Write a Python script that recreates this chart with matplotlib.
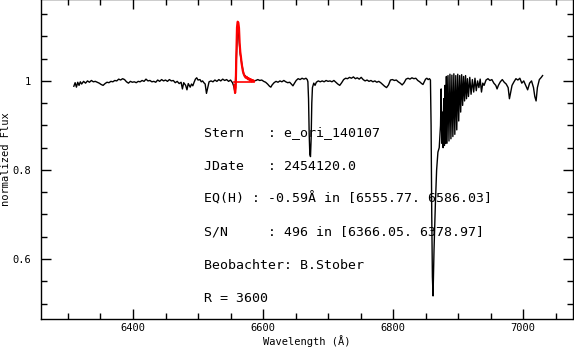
import matplotlib
matplotlib.use("Agg")
import matplotlib.pyplot as plt
from matplotlib.ticker import MultipleLocator

plt.rcParams['font.family'] = ['DejaVu Sans Mono']

# spectrum (wavelength in Angstrom, normalized flux)
wave = [6309, 6311, 6313, 6315, 6317, 6319, 6321, 6324, 6327, 6330, 6333, 6336, 6339, 6342,
        6345, 6348, 6351, 6354, 6357, 6360, 6363, 6366, 6369, 6372, 6375, 6378, 6381, 6384,
        6387, 6390, 6393, 6396, 6399, 6402, 6405, 6408, 6411, 6414, 6417, 6420, 6423, 6426,
        6429, 6432, 6435, 6438, 6441, 6444, 6447, 6450, 6453, 6456, 6459, 6462, 6465, 6468,
        6471, 6474, 6476, 6478, 6481, 6483, 6485, 6488, 6490, 6492, 6494, 6496, 6498, 6500,
        6503, 6505, 6507, 6509, 6511, 6513, 6515, 6517, 6520, 6523, 6526, 6529, 6532, 6535,
        6538, 6541, 6544, 6547, 6550, 6553, 6555, 6557, 6561, 6565, 6570, 6575, 6580, 6586,
        6589, 6592, 6595, 6598, 6601, 6604, 6607, 6610, 6612, 6614, 6617, 6620, 6623, 6626,
        6629, 6632, 6635, 6638, 6641, 6644, 6646, 6648, 6651, 6654, 6657, 6660, 6663, 6666,
        6668, 6669, 6670, 6671, 6672, 6673, 6674, 6675, 6676, 6678, 6680, 6682, 6685, 6688,
        6691, 6694, 6697, 6700, 6703, 6706, 6709, 6712, 6715, 6718, 6721, 6724, 6727, 6730,
        6733, 6736, 6739, 6742, 6745, 6748, 6751, 6754, 6757, 6760, 6763, 6766, 6769, 6772,
        6775, 6778, 6781, 6784, 6787, 6790, 6793, 6796, 6799, 6802, 6805, 6808, 6811, 6814,
        6817, 6820, 6823, 6826, 6829, 6832, 6835, 6838, 6841, 6844, 6846, 6848, 6850, 6852,
        6854, 6856, 6857.5, 6858.5, 6859.5, 6860.5, 6861.5, 6863, 6865, 6867, 6869, 6871,
        6873, 6874, 6875, 6876, 6877, 6878, 6879, 6880, 6881, 6882, 6883, 6884.5, 6886,
        6887.5, 6889, 6890.5, 6892, 6893.5, 6895, 6896.5, 6898, 6899.5, 6901, 6902.5, 6904,
        6905.5, 6907, 6908.5, 6910, 6911.5, 6913, 6914.5, 6916, 6918, 6920, 6922, 6924, 6926,
        6928, 6930, 6932, 6934, 6936, 6938, 6940, 6943, 6946, 6949, 6952, 6955, 6958, 6960,
        6962, 6965, 6968, 6971, 6974, 6977, 6979, 6981, 6983, 6986, 6989, 6992, 6995, 6998,
        7001, 7004, 7007, 7010, 7013, 7016, 7018, 7020, 7022, 7025, 7028, 7030]
flux = [0.988, 0.996, 0.986, 0.997, 0.990, 0.998, 0.993, 0.999, 0.995, 1.000, 0.997, 1.001, 0.998, 0.999,
        0.997, 0.995, 0.992, 0.990, 0.994, 0.997, 0.996, 0.999, 0.998, 1.001, 1.000, 1.004, 1.002, 1.005,
        1.003, 0.998, 0.995, 0.999, 0.997, 0.998, 0.996, 0.999, 0.998, 1.001, 0.999, 1.004, 1.000, 1.001,
        0.998, 0.999, 0.997, 1.002, 0.999, 1.003, 1.000, 1.002, 0.999, 1.003, 1.000, 1.001, 0.996, 0.999,
        0.994, 0.997, 0.982, 0.996, 0.990, 0.980, 0.994, 0.986, 0.993, 0.989, 0.997, 1.004, 1.007, 1.002,
        1.003, 0.998, 1.000, 0.996, 0.993, 0.972, 0.985, 0.998, 1.000, 0.998, 1.002, 0.999, 1.003, 1.000,
        1.004, 1.001, 1.003, 0.999, 1.002, 0.996, 0.988, 0.973, 1.130, 1.060, 1.015, 1.008, 1.003, 1.000,
        1.001, 1.003, 1.001, 1.002, 0.999, 0.997, 0.993, 0.988, 0.986, 0.991, 0.996, 0.999, 0.997, 1.000,
        0.998, 1.001, 0.998, 0.996, 0.997, 0.992, 0.989, 0.994, 1.001, 1.005, 1.003, 1.006, 1.004, 1.006,
        1.003, 0.998, 0.960, 0.880, 0.835, 0.830, 0.870, 0.950, 0.985, 0.995, 0.990, 0.997, 1.000, 0.998,
        1.000, 0.998, 1.001, 0.999, 1.000, 0.998, 1.001, 0.997, 0.993, 0.990, 0.996, 1.003, 1.006, 1.005,
        1.008, 1.006, 1.009, 1.005, 1.007, 1.004, 1.008, 1.003, 1.000, 1.002, 0.999, 1.001, 0.998, 1.000,
        0.997, 0.999, 0.996, 0.992, 0.988, 0.985, 0.991, 1.002, 1.003, 1.001, 1.002, 0.998, 0.995, 0.991,
        0.996, 1.004, 1.006, 1.004, 1.007, 1.005, 1.006, 1.001, 0.998, 0.994, 0.992, 0.998, 1.004, 1.006,
        1.003, 1.005, 1.002, 0.900, 0.700, 0.560, 0.517, 0.620, 0.720, 0.800, 0.840, 0.850,
        0.900, 0.982, 0.860, 0.930, 0.850, 0.960, 0.855, 0.990, 0.860, 1.010, 0.860, 1.012, 0.865,
        1.015, 0.870, 1.013, 0.875, 1.016, 0.880, 1.012, 0.890, 1.015, 0.910, 1.012, 0.930,
        1.014, 0.945, 1.010, 0.955, 1.012, 0.960, 1.005, 0.965, 1.008, 0.970, 1.003, 0.975, 1.006,
        0.978, 1.000, 0.985, 1.004, 0.975, 0.995, 0.990, 1.002, 1.005, 1.001, 1.003, 0.995, 0.990, 0.982,
        0.990, 0.998, 1.003, 0.997, 0.993, 0.985, 0.960, 0.975, 0.990, 0.998, 1.005, 1.002, 1.006, 0.995,
        1.000, 0.990, 0.980, 0.995, 1.000, 0.985, 0.965, 0.955, 0.985, 1.003, 1.008, 1.012]

# H-alpha equivalent width window (drawn in red)
eq_wave = [6556.0, 6557.0, 6558.0, 6559.0, 6560.0, 6561.0, 6562.0, 6563.0, 6564.0, 6565.0,
           6566.0, 6567.0, 6568.0, 6569.0, 6570.0, 6571.0, 6572.0, 6573.5, 6575.0, 6576.5,
           6578.0, 6579.5, 6581.0, 6582.5, 6584.0, 6586.0]
eq_flux = [0.990, 0.973, 0.985, 1.060, 1.120, 1.133, 1.131, 1.119, 1.085, 1.065,
           1.054, 1.040, 1.031, 1.022, 1.018, 1.013, 1.010, 1.007, 1.009, 1.004,
           1.006, 1.001, 1.004, 0.999, 1.002, 1.000]
eq_window = [6556.0, 6586.0]
eq_level = [0.998, 0.998]

info = ["Stern   : e_ori_140107",
        "JDate   : 2454120.0",
        "EQ(H) : -0.59\u00c5 in [6555.77. 6586.03]",
        "S/N     : 496 in [6366.05. 6378.97]",
        "Beobachter: B.Stober",
        "R = 3600"]

fig = plt.figure(figsize=(5.74, 3.51), dpi=100)
ax = fig.add_axes([41 / 574, 32 / 351, 531.5 / 574, 320 / 351])

ax.plot(wave, flux, color='black', lw=1.0)
ax.plot(eq_wave, eq_flux, color='red', lw=1.6)
ax.plot(eq_window, eq_level, color='red', lw=1.2)

ax.set_xlim(6258.5, 7076)
ax.set_ylim(0.4652, 1.184)
ax.xaxis.set_major_locator(MultipleLocator(200))
ax.xaxis.set_minor_locator(MultipleLocator(50))
ax.yaxis.set_minor_locator(MultipleLocator(0.05))
ax.set_yticks([0.6, 0.8, 1.0])
ax.set_yticklabels(["0.6", "0.8", "1"])
ax.tick_params(which='both', direction='in', top=True, right=True, labelsize=7.5, width=1)
ax.tick_params(which='major', length=7)
ax.tick_params(axis='x', which='major', pad=3)
ax.tick_params(axis='y', which='major', pad=7)
ax.tick_params(which='minor', length=4.5)
for s in ax.spines.values():
    s.set_linewidth(1)

ax.set_xlabel("Wavelength (\u00c5)", fontsize=7.5, va='center')
ax.xaxis.set_label_coords(0.5, -0.068)
ax.set_ylabel("normalized Flux", fontsize=7.5, va='center')
ax.yaxis.set_label_coords(-0.065, 0.5)

y0 = 0.883
for i, line in enumerate(info):
    ax.text(6509, y0 - i * 0.0742, line, fontsize=9.5, va='center', ha='left')

fig.savefig("out.png", dpi=100)
